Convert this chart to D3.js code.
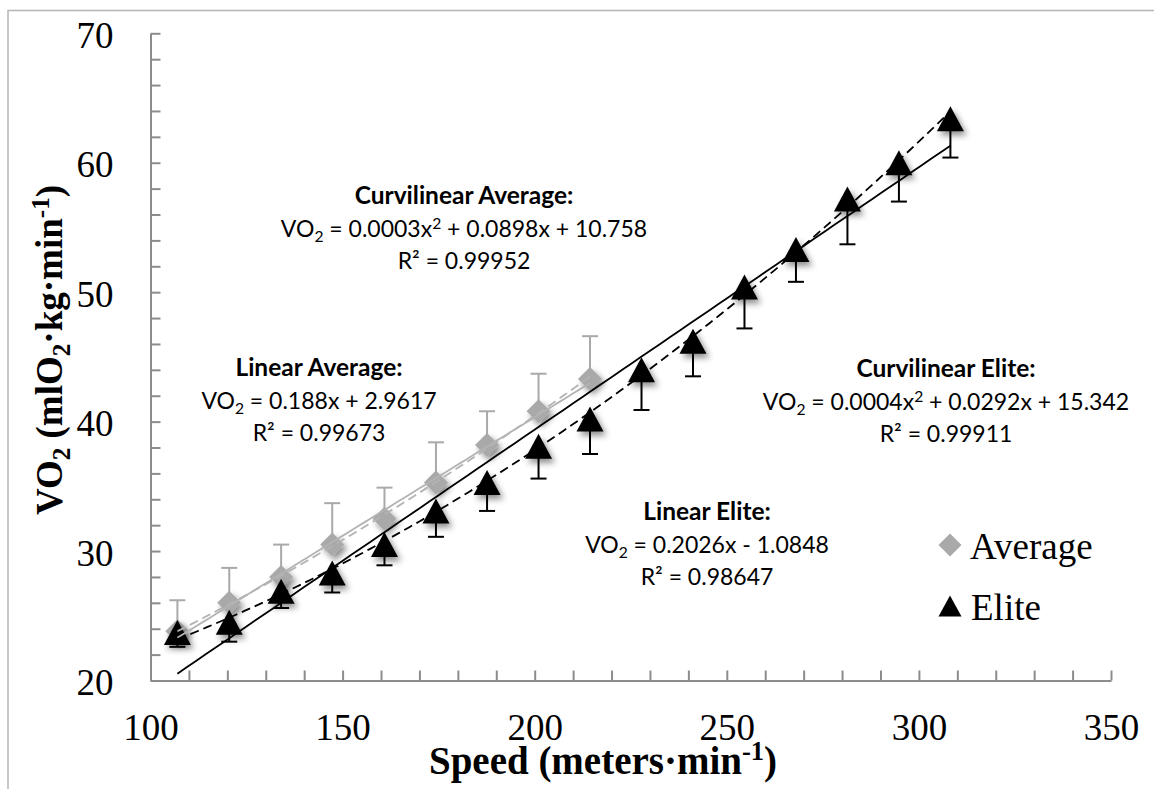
<!DOCTYPE html>
<html>
<head>
<meta charset="utf-8">
<script src="https://cdn.jsdelivr.net/npm/d3@7"></script>
<style>
  html, body { margin: 0; padding: 0; background: #fff; }
  svg { display: block; }
</style>
</head>
<body>
<svg id="chart" width="1154" height="789"></svg>
<script>
// ---------------- DATA ----------------
const speedAverage = [107.0, 120.5, 134.0, 147.3, 160.9, 174.3, 187.6, 201.0, 214.4];
const vo2Average   = [23.8, 26.0, 28.0, 30.5, 32.5, 35.3, 38.2, 40.8, 43.3];
const sdAverage    = [2.4, 2.7, 2.5, 3.2, 2.4, 3.1, 2.6, 2.9, 3.3];

const speedElite = [107.0, 120.5, 134.0, 147.3, 160.9, 174.3, 187.6, 201.0, 214.4, 227.8, 241.2, 254.6, 268.0, 281.4, 294.8, 308.2];
const vo2Elite   = [23.7, 24.5, 26.9, 28.3, 30.5, 33.1, 35.3, 38.1, 40.2, 44.0, 46.2, 50.4, 53.3, 57.2, 60.0, 63.4];
const sdElite    = [1.1, 1.5, 1.3, 1.5, 1.6, 2.0, 2.2, 2.5, 2.7, 3.1, 2.7, 3.2, 2.5, 3.5, 3.0, 3.0];

const xMajorTicks = [100, 150, 200, 250, 300, 350];
const yMajorTicks = [20, 30, 40, 50, 60, 70];
const xMinorStep = 10;
const yMinorStep = 2;

const seriesNames = ["Average", "Elite"];

// annotation text (segments: [text, kind])
const annCurvAvgTitle = "Curvilinear Average:";
const annCurvAvgEq = [["VO",""],["2","sub"],[" = 0.0003x",""],["2","sup"],[" + 0.0898x + 10.758",""]];
const annCurvAvgR2 = "R² = 0.99952";
const annLinAvgTitle = "Linear Average:";
const annLinAvgEq = [["VO",""],["2","sub"],[" = 0.188x + 2.9617",""]];
const annLinAvgR2 = "R² = 0.99673";
const annCurvEliteTitle = "Curvilinear Elite:";
const annCurvEliteEq = [["VO",""],["2","sub"],[" = 0.0004x",""],["2","sup"],[" + 0.0292x + 15.342",""]];
const annCurvEliteR2 = "R² = 0.99911";
const annLinEliteTitle = "Linear Elite:";
const annLinEliteEq = [["VO",""],["2","sub"],[" = 0.2026x - 1.0848",""]];
const annLinEliteR2 = "R² = 0.98647";

const xTitle = [["Speed (meters·min",""],["-1","sup"],[")",""]];
const yTitle = [["VO",""],["2","sub"],[" (mlO",""],["2","sub"],["·kg·min",""],["-1","sup"],[")",""]];

// ---------------- HELPERS ----------------
function polyfit(xs, ys, deg) {
  const n = deg + 1;
  const A = Array.from({length: n}, () => new Array(n + 1).fill(0));
  for (let k = 0; k < xs.length; k++) {
    for (let i = 0; i < n; i++) {
      for (let j = 0; j < n; j++) A[i][j] += Math.pow(xs[k], i + j);
      A[i][n] += ys[k] * Math.pow(xs[k], i);
    }
  }
  for (let i = 0; i < n; i++) {
    let p = i;
    for (let r = i + 1; r < n; r++) if (Math.abs(A[r][i]) > Math.abs(A[p][i])) p = r;
    [A[i], A[p]] = [A[p], A[i]];
    for (let r = 0; r < n; r++) {
      if (r === i) continue;
      const f = A[r][i] / A[i][i];
      for (let c = i; c <= n; c++) A[r][c] -= f * A[i][c];
    }
  }
  return A.map((row, i) => row[n] / row[i]);
}
function evalPoly(c, x) { return c.reduce((s, ci, i) => s + ci * Math.pow(x, i), 0); }

function richText(sel, segs, size) {
  let shift = 0;
  segs.forEach(([t, kind]) => {
    let target = 0;
    if (kind === "sub") target = size * 0.22;
    if (kind === "sup") target = -size * 0.36;
    const ts = sel.append("tspan").text(t);
    if (target !== shift) { ts.attr("dy", target - shift); shift = target; }
    if (kind) ts.attr("font-size", size * 0.68);
  });
}

// ---------------- CHART ----------------
const svg = d3.select("#chart");
const defs = svg.append("defs");
const f = defs.append("filter").attr("id", "shadow")
  .attr("x", "-60%").attr("y", "-60%").attr("width", "220%").attr("height", "220%");
f.append("feDropShadow").attr("dx", 3).attr("dy", 4).attr("stdDeviation", 3)
  .attr("flood-color", "#000").attr("flood-opacity", 0.45);

// outer frame
svg.append("path").attr("d", "M8,789V10.5H1154").attr("fill", "none")
  .attr("stroke", "#b5b5b5").attr("stroke-width", 1.5);

const x = d3.scaleLinear().domain([100, 350]).range([150.5, 1111]);
const y = d3.scaleLinear().domain([20, 70]).range([680.5, 33.3]);

const AXIS_COLOR = "#8c8c8c";
const tickFontFamily = "'Liberation Serif', 'Times New Roman', serif";

const xMinor = d3.range(100, 350 + 0.001, xMinorStep);
const yMinor = d3.range(20, 70 + 0.001, yMinorStep);

const xAxis = d3.axisBottom(x).tickValues(xMinor).tickSizeInner(-10).tickSizeOuter(0).tickPadding(33)
  .tickFormat(d => xMajorTicks.includes(Math.round(d)) ? d : "");
const yAxis = d3.axisLeft(y).tickValues(yMinor).tickSizeInner(-10).tickSizeOuter(0).tickPadding(37)
  .tickFormat(d => yMajorTicks.includes(Math.round(d)) ? d : "");

const gx = svg.append("g").attr("transform", `translate(0,${y(20)})`).call(xAxis);
const gy = svg.append("g").attr("transform", `translate(${x(100)},0)`).call(yAxis);
[gx, gy].forEach(g => {
  g.select(".domain").attr("stroke", AXIS_COLOR).attr("stroke-width", 2);
  g.selectAll(".tick line").attr("stroke", AXIS_COLOR).attr("stroke-width", 2);
  g.selectAll(".tick text").attr("fill", "#000").attr("font-family", tickFontFamily).attr("font-size", 37);
});
gy.selectAll(".tick text").attr("dy", "0.38em");

// axis titles
svg.append("text").attr("x", 603).attr("y", 774).attr("text-anchor", "middle")
  .attr("font-family", tickFontFamily).attr("font-weight", "bold").attr("font-size", 39)
  .call(s => richText(s, xTitle, 39));
svg.append("text").attr("transform", "translate(62,350) rotate(-90)").attr("text-anchor", "middle")
  .attr("font-family", tickFontFamily).attr("font-weight", "bold").attr("font-size", 37)
  .call(s => richText(s, yTitle, 37));

// shapes
const diamondPath = r => `M0,${-r}L${r},0L0,${r}L${-r},0Z`;
const trianglePath = (w, h) => `M0,${-h/2}L${w/2},${h/2}L${-w/2},${h/2}Z`;

const GRAY = "#a9a9a9";
const avgData = speedAverage.map((s, i) => ({s, v: vo2Average[i], sd: sdAverage[i]}));
const eliteData = speedElite.map((s, i) => ({s, v: vo2Elite[i], sd: sdElite[i]}));

// error bars
const eb = svg.append("g");
avgData.forEach(d => {
  const g = eb.append("g").attr("stroke", GRAY).attr("stroke-width", 2);
  g.append("line").attr("x1", x(d.s)).attr("x2", x(d.s)).attr("y1", y(d.v)).attr("y2", y(d.v + d.sd));
  g.append("line").attr("x1", x(d.s) - 8).attr("x2", x(d.s) + 8).attr("y1", y(d.v + d.sd)).attr("y2", y(d.v + d.sd));
});
eliteData.forEach(d => {
  const g = eb.append("g").attr("stroke", "#000").attr("stroke-width", 2);
  g.append("line").attr("x1", x(d.s)).attr("x2", x(d.s)).attr("y1", y(d.v)).attr("y2", y(d.v - d.sd));
  g.append("line").attr("x1", x(d.s) - 8).attr("x2", x(d.s) + 8).attr("y1", y(d.v - d.sd)).attr("y2", y(d.v - d.sd));
});

// markers
svg.append("g").selectAll("path.avg").data(avgData).join("path")
  .attr("d", diamondPath(12)).attr("fill", GRAY).attr("filter", "url(#shadow)")
  .attr("transform", d => `translate(${x(d.s)},${y(d.v)})`);
svg.append("g").selectAll("path.el").data(eliteData).join("path")
  .attr("d", trianglePath(27, 25)).attr("fill", "#000").attr("filter", "url(#shadow)")
  .attr("transform", d => `translate(${x(d.s)},${y(d.v)})`);

// trend lines
const line = d3.line().x(d => x(d[0])).y(d => y(d[1]));
function trend(xs, ys, deg, color, dash) {
  const c = polyfit(xs, ys, deg);
  const x0 = d3.min(xs), x1 = d3.max(xs);
  const pts = d3.range(0, 81).map(i => { const xv = x0 + (x1 - x0) * i / 80; return [xv, evalPoly(c, xv)]; });
  svg.append("path").attr("d", line(pts)).attr("fill", "none").attr("stroke", color)
    .attr("stroke-width", 1.8).attr("stroke-dasharray", dash);
}
trend(speedAverage, vo2Average, 1, "#b3b3b3", null);
trend(speedAverage, vo2Average, 2, "#b3b3b3", "9,5");
trend(speedElite, vo2Elite, 1, "#000", null);
trend(speedElite, vo2Elite, 2, "#000", "9,5");

// annotations
const annFont = "Lato, 'Open Sans', sans-serif";
const ANN = 23;
const ANN_TITLE = 24.5;
function annotation(cx, y0, title, eq, r2) {
  svg.append("text").attr("x", cx).attr("y", y0).attr("text-anchor", "middle")
    .attr("font-family", annFont).attr("font-weight", "bold").attr("font-size", ANN_TITLE).text(title);
  svg.append("text").attr("x", cx).attr("y", y0 + 33).attr("text-anchor", "middle")
    .attr("font-family", annFont).attr("font-size", ANN).call(s => richText(s, eq, ANN));
  svg.append("text").attr("x", cx).attr("y", y0 + 65).attr("text-anchor", "middle")
    .attr("font-family", annFont).attr("font-size", ANN).text(r2);
}
annotation(464, 204, annCurvAvgTitle, annCurvAvgEq, annCurvAvgR2);
annotation(319, 376, annLinAvgTitle, annLinAvgEq, annLinAvgR2);
annotation(946, 377, annCurvEliteTitle, annCurvEliteEq, annCurvEliteR2);
annotation(707, 520, annLinEliteTitle, annLinEliteEq, annLinEliteR2);

// legend
const lg = svg.append("g");
lg.append("path").attr("d", diamondPath(11.5)).attr("fill", GRAY).attr("transform", "translate(950,545)");
lg.append("text").attr("x", 970).attr("y", 559).attr("font-family", tickFontFamily).attr("font-size", 37).text(seriesNames[0]);
lg.append("path").attr("d", trianglePath(23, 21)).attr("fill", "#000").attr("transform", "translate(950,606)");
lg.append("text").attr("x", 971).attr("y", 620).attr("font-family", tickFontFamily).attr("font-size", 37).text(seriesNames[1]);
</script>
</body>
</html>
